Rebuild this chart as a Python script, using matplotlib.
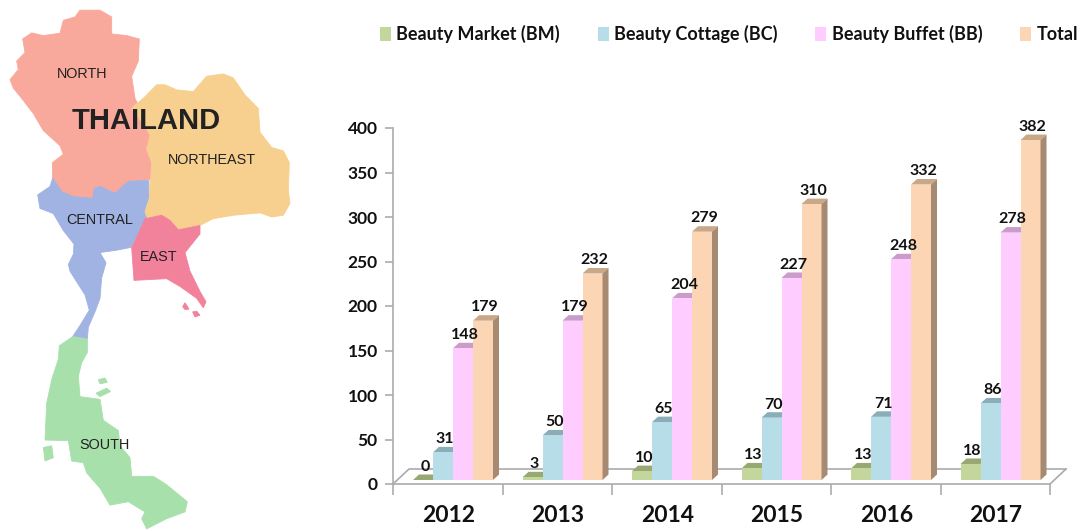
import numpy as np
import matplotlib
matplotlib.use("Agg")
import matplotlib.pyplot as plt
from matplotlib.patches import Polygon, Patch

years = ["2012", "2013", "2014", "2015", "2016", "2017"]
series_names = ["Beauty Market (BM)", "Beauty Cottage (BC)", "Beauty Buffet (BB)", "Total"]
bm = [0, 3, 10, 13, 13, 18]
bc = [31, 50, 65, 70, 71, 86]
bb = [148, 179, 204, 227, 248, 278]
total = [179, 232, 279, 310, 332, 382]
series_values = [bm, bc, bb, total]
series_colors = ["#C3D69B", "#B7DEE8", "#FFCCFF", "#FCD5B5"]
top_colors = ["#98A872", "#8AAEB8", "#C99CC9", "#C9A888"]
side_colors = ["#8F9E6C", "#849FA8", "#B98FB9", "#A68A72"]

regions = {
 "north": ("#F9A99B", [(30,235),(55,205),(50,180),(75,155),(68,115),(95,97),(130,105),(180,98),(190,60),(225,50),(240,30),(300,30),(335,50),(335,100),(380,105),(418,115),(415,180),(395,225),(405,290),(415,310),(395,320),(440,380),(450,400),(440,440),(455,480),(452,530),(420,533),(385,535),(345,570),(300,550),(283,555),(278,585),(220,580),(185,565),(158,525),(157,480),(190,455),(180,430),(130,385),(100,335),(65,290),(40,260)]),
 "northeast": ("#F7D08F", [(405,310),(430,290),(470,250),(495,250),(530,265),(580,270),(620,225),(670,218),(700,230),(735,280),(775,320),(780,390),(815,435),(850,445),(868,480),(865,560),(870,600),(850,635),(815,640),(780,628),(700,635),(640,645),(600,665),(535,678),(510,650),(485,635),(435,645),(432,625),(445,585),(452,530),(455,480),(440,440),(450,400),(440,380),(395,320)]),
 "central": ("#A0B3E3", [(158,525),(185,565),(220,580),(278,585),(283,555),(300,550),(345,570),(385,535),(420,533),(447,533),(445,585),(432,625),(440,645),(415,690),(392,730),(350,738),(300,745),(318,775),(305,820),(300,880),(285,920),(265,965),(262,1000),(218,993),(240,960),(268,915),(255,870),(210,800),(205,780),(220,750),(222,720),(190,680),(160,630),(120,615),(113,575),(150,550)]),
 "east": ("#F2829C", [(435,645),(485,635),(510,650),(535,678),(600,665),(600,690),(555,745),(570,800),(600,860),(618,890),(610,908),(590,880),(540,845),(500,822),(402,827),(395,730),(415,690)]),
 "east_i1": ("#F2829C", [(548,905),(555,893),(567,912),(555,913)]),
 "east_i2": ("#F2829C", [(578,920),(590,918),(600,930),(585,935)]),
 "south": ("#A8E0AC", [(218,993),(262,1000),(262,1040),(245,1070),(235,1110),(240,1170),(300,1178),(310,1240),(355,1270),(360,1315),(390,1350),(395,1405),(460,1405),(500,1430),(562,1480),(555,1510),(500,1530),(440,1560),(425,1530),(435,1510),(385,1480),(330,1490),(300,1440),(260,1395),(250,1365),(215,1360),(205,1300),(135,1298),(140,1190),(155,1120),(175,1060),(178,1020)]),
 "south_i1": ("#A8E0AC", [(130,1320),(155,1315),(160,1350),(135,1360)]),
 "south_i2": ("#A8E0AC", [(295,1120),(315,1115),(322,1128),(300,1132)]),
 "south_i3": ("#A8E0AC", [(288,1160),(320,1145),(332,1155),(300,1170)]),
}
map_labels = [("NORTH", 82, 74, 10.4), ("NORTHEAST", 212, 160, 10.4), ("CENTRAL", 100, 220, 10.4),
              ("EAST", 159, 257, 10.4), ("SOUTH", 104, 445, 10.4), ("THAILAND", 146, 121, 21)]

W, H = 1081, 531
fig = plt.figure(figsize=(W/100, H/100), dpi=100, facecolor="white")
plt.rcParams["font.family"] = ["Lato", "DejaVu Sans"]

# ---- map, in reference pixel space
mp = fig.add_axes([0, 0, 300/W, 1])
mp.set_xlim(0, 300); mp.set_ylim(H, 0); mp.axis("off")
for name, (col, pts) in regions.items():
    p = np.array(pts, float)/3
    p[:, 1] *= 1.017
    mp.add_patch(Polygon(p, closed=True, fc=col, ec=col, lw=0.6))
for txt, x, y, fs in map_labels:
    mp.text(x, y, txt, ha="center", va="center", fontsize=fs, color="#222222",
            family="Liberation Sans", fontweight="bold" if txt == "THAILAND" else "normal")

# ---- chart
px_left, px_right, px_y0, px_y400 = 393, 1050, 484, 128
ax = fig.add_axes([px_left/W, 1-px_y0/H, (px_right-px_left)/W, (px_y0-px_y400)/H])
ax.set_xlim(-0.5, 5.5); ax.set_ylim(0, 400)
ax.patch.set_alpha(0)
ppy = 400/(px_y0-px_y400)           # one pixel in y data units
depth_y = 5.5*ppy
depth_x = 6/109.5
lift = 4*ppy
w = 20/109.5
offs = np.array([-1.5, -0.5, 0.5, 1.5])*w + 0.048

grey = "#ABABAB"
fx, fy = 16/109.5, 15*ppy
ax.plot([-0.5, -0.5+fx, 5.5+fx], [0, fy, fy], color=grey, lw=1.2, clip_on=False, zorder=1)
ax.plot([5.5, 5.5+fx], [0, fy], color=grey, lw=1.2, clip_on=False, zorder=1)

for i in range(len(years)):
    for k, vals in enumerate(series_values):
        v = vals[i]
        x0 = i + offs[k] - w/2
        x1 = x0 + w
        top = v + lift
        ax.bar(x0 + w/2, v, width=w, bottom=lift, color=series_colors[k], lw=0, zorder=3+k*0.1)
        ax.add_patch(Polygon([(x0, top), (x1, top), (x1+depth_x, top+depth_y), (x0+depth_x, top+depth_y)],
                             closed=True, fc=top_colors[k], ec="none", zorder=2.9+k*0.1, clip_on=False))
        if k == 3:
            ax.add_patch(Polygon([(x1, lift), (x1+depth_x, lift+depth_y), (x1+depth_x, top+depth_y), (x1, top)],
                                 closed=True, fc=side_colors[k], ec="none", zorder=3.35, clip_on=False))
        ax.annotate(str(v), (x0 + w/2, top + depth_y), xytext=(1.5, 0.5), textcoords="offset points",
                    ha="center", va="bottom", fontsize=11.5, fontweight="bold", color="#111111",
                    annotation_clip=False, zorder=6)

ax.set_yticks(np.arange(0, 401, 50))
ax.set_xticks(np.arange(-0.5, 5.6, 1), minor=False)
ax.set_xticklabels([])
for s in ["top", "right"]:
    ax.spines[s].set_visible(False)
for s in ["left", "bottom"]:
    ax.spines[s].set_color(grey); ax.spines[s].set_linewidth(1.2)
ax.tick_params(axis="y", color=grey, length=6, width=1.2, labelsize=12.5, pad=5)
ax.tick_params(axis="x", color=grey, length=8, width=1.2, direction="out")
for t in ax.get_yticklabels():
    t.set_fontweight("bold"); t.set_color("#111111")
for i, y in enumerate(years):
    ax.annotate(y, (i, 0), xytext=(0.5, -15), textcoords="offset points", ha="center", va="top",
                fontsize=16.5, fontweight="bold", color="#111111", annotation_clip=False)

handles = [Patch(fc=c, ec="none") for c in series_colors]
leg = fig.legend(handles, series_names, ncols=4, loc="center left",
                 bbox_to_anchor=(380/W, 1-34/H), bbox_transform=fig.transFigure, frameon=False,
                 prop={"family": "Lato", "weight": "bold", "size": 13},
                 handlelength=0.6, handleheight=0.85, handletextpad=0.3, columnspacing=2.1,
                 borderpad=0, borderaxespad=0)
for t in leg.get_texts():
    t.set_color("#111111")

fig.savefig("out.png", dpi=100, facecolor="white")
